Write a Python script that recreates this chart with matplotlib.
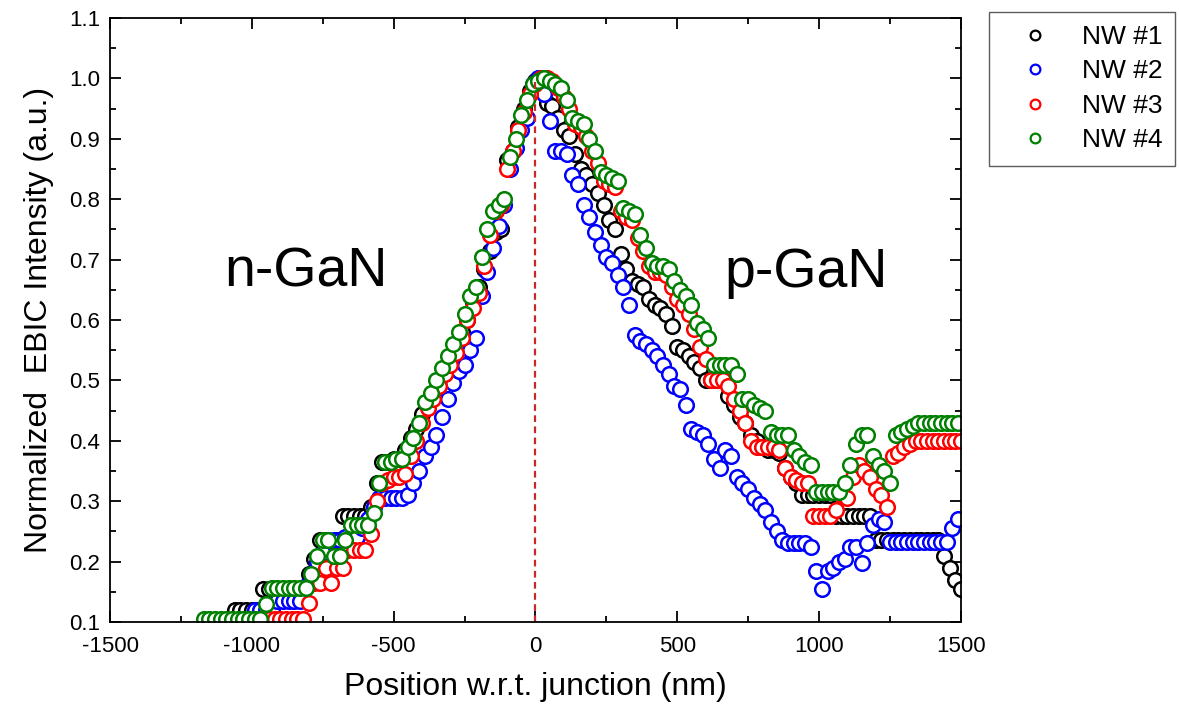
import numpy as np
import matplotlib
matplotlib.use("Agg")
import matplotlib.pyplot as plt
from matplotlib.lines import Line2D
from matplotlib.ticker import MultipleLocator, FormatStrFormatter

plt.rcParams['font.family'] = ['Liberation Sans', 'DejaVu Sans']
plt.rcParams['axes.unicode_minus'] = False

# sampling grids (nm), 20 nm steps
x_nw1 = np.arange(-1060, 1501, 20)
x_nw2 = np.arange(-990, 1491, 20)
x_nw3 = np.arange(-960, 1501, 20)
x_nw4 = np.arange(-1170, 1491, 20)

y_nw1 = [
    .12, .12, .12, .12, .12, .155, .155, .155, .155, .155,
    .155, .155, .155, .18, .205, .235, .235, .21, .235, .275,
    .275, .275, .275, .275, .29, .33, .365, .365, .37, .37,
    .385, .405, .42, .445, .465, .48, .495, .515, .535, .555,
    .58, .60, .63, .655, .685, .715, .745, .75, .865, .88,
    .92, .95, .98, .995, .99, .96, .955, .935, .915, .905,
    .875, .85, .84, .825, .81, .79, .765, .75, .71, .685,
    .665, .66, .655, .635, .625, .62, .61, .59, .555, .55,
    .54, .53, .52, .50, .50, .50, .50, .475, .46, .44,
    .43, .41, .40, .39, .385, .385, .38, .355, .34, .33,
    .31, .31, .31, .31, .31, .31, .275, .275, .275, .275,
    .275, .275, .275, .235, .235, .235, .235, .235, .235, .235,
    .235, .235, .235, .235, .235, .21, .19, .17, .155,
]
y_nw2 = [
    .12, .12, .12, .12, .135, .135, .135, .135, .135, .16,
    .18, .20, .215, .235, .235, .235, .24, .24, .24, .255,
    .27, .29, .305, .305, .305, .305, .305, .31, .33, .35,
    .375, .39, .41, .44, .47, .495, .515, .525, .55, .57,
    .64, .68, .72, .755, .79, .85, .885, .915, .935, .99,
    1.0, .975, .93, .88, .88, .875, .84, .825, .79, .77,
    .745, .725, .705, .695, .675, .655, .625, .575, .565, .56,
    .55, .54, .525, .51, .49, .485, .46, .42, .415, .41,
    .395, .37, .355, .385, .375, .34, .33, .32, .305, .295,
    .285, .265, .25, .235, .23, .23, .23, .23, .225, .185,
    .155, .185, .19, .20, .205, .225, .225, .197, .23, .26,
    .27, .265, .232, .232, .232, .232, .232, .232, .232, .232,
    .232, .232, .232, .255, .27,
]
y_nw3 = [
    .105, .105, .105, .105, .105, .105, .105, .105, .132, .165,
    .165, .19, .165, .19, .19, .22, .22, .22, .22, .245,
    .30, .33, .335, .34, .34, .345, .375, .40, .43, .455,
    .47, .49, .51, .525, .545, .57, .60, .62, .645, .69,
    .74, .78, .79, .85, .88, .915, .945, .975, .99, 1.0,
    1.0, .995, .985, .97, .95, .925, .92, .905, .88, .86,
    .83, .825, .82, .78, .77, .765, .735, .715, .69, .68,
    .68, .675, .655, .635, .625, .61, .585, .555, .535, .50,
    .50, .50, .49, .47, .45, .43, .40, .39, .39, .39,
    .39, .385, .355, .34, .335, .33, .33, .275, .275, .275,
    .275, .285, .31, .305, .34, .36, .35, .34, .32, .31,
    .29, .375, .38, .39, .395, .40, .40, .40, .40, .40,
    .40, .40, .40, .40,
]
y_nw4 = [
    .105, .105, .105, .105, .105, .105, .105, .105, .105, .105,
    .105, .13, .157, .157, .157, .157, .157, .157, .157, .18,
    .21, .235, .235, .21, .21, .235, .26, .26, .26, .26,
    .28, .33, .365, .365, .37, .37, .39, .405, .43, .465,
    .48, .50, .52, .54, .56, .58, .61, .64, .655, .705,
    .75, .78, .79, .80, .87, .90, .94, .965, .99, .995,
    1.0, .995, .99, .985, .965, .935, .93, .925, .90, .88,
    .845, .84, .835, .83, .785, .78, .775, .74, .72, .695,
    .69, .69, .685, .665, .65, .64, .625, .595, .585, .57,
    .525, .525, .525, .525, .51, .47, .47, .46, .455, .45,
    .415, .41, .41, .41, .385, .375, .365, .36, .315, .315,
    .315, .315, .315, .33, .36, .395, .41, .41, .375, .36,
    .35, .33, .41, .415, .42, .425, .43, .43, .43, .43,
    .43, .43, .43, .43,
]

labels = ["NW #1", "NW #2", "NW #3", "NW #4"]
colors = ["#000000", "#0000ff", "#ff0000", "#008000"]

fig = plt.figure(figsize=(11.79, 7.22), dpi=100)
ax = fig.add_axes([0.0933, 0.1385, 0.7217, 0.8365])

for xs, ys, c in zip([x_nw1, x_nw2, x_nw3, x_nw4], [y_nw1, y_nw2, y_nw3, y_nw4], colors):
    assert len(xs) == len(ys)
    ax.plot(xs, ys, 'o', ms=10.5, mfc='white', mec=c, mew=1.8, ls='none')

ax.plot([0, 0], [0.1, 1.0], ls='--', color='#c82828', lw=1.6, dashes=(3, 2))

ax.text(-810, 0.655, "n-GaN", fontsize=40, ha='center', va='baseline')
ax.text(955, 0.655, "p-GaN", fontsize=40, ha='center', va='baseline')

ax.set_xlim(-1500, 1500)
ax.set_ylim(0.1, 1.1)
ax.xaxis.set_major_locator(MultipleLocator(500))
ax.xaxis.set_minor_locator(MultipleLocator(250))
ax.yaxis.set_major_locator(MultipleLocator(0.1))
ax.yaxis.set_minor_locator(MultipleLocator(0.05))
ax.yaxis.set_major_formatter(FormatStrFormatter('%.1f'))
ax.tick_params(which='both', direction='in', top=True, right=True, width=1.3)
ax.tick_params(which='major', length=8, labelsize=16)
ax.tick_params(axis='x', which='major', pad=10)
ax.tick_params(axis='y', which='major', pad=7)
ax.tick_params(which='minor', length=4)
for s in ax.spines.values():
    s.set_linewidth(1.3)

ax.set_xlabel("Position w.r.t. junction (nm)", fontsize=23, labelpad=11)
ax.set_ylabel("Normalized  EBIC Intensity (a.u.)", fontsize=23, labelpad=11)

handles = [Line2D([], [], ls='none', marker='o', ms=7, mfc='white', mec=c, mew=1.6) for c in colors]
fig.legend(handles, labels, loc='upper left', bbox_to_anchor=(0.839, 0.984),
           bbox_transform=fig.transFigure, fontsize=19, frameon=True, fancybox=False,
           edgecolor='#333333', handlelength=2.5, handletextpad=0.5, labelspacing=0.4,
           borderpad=0.5, borderaxespad=0)

fig.savefig("out.png", dpi=100)
